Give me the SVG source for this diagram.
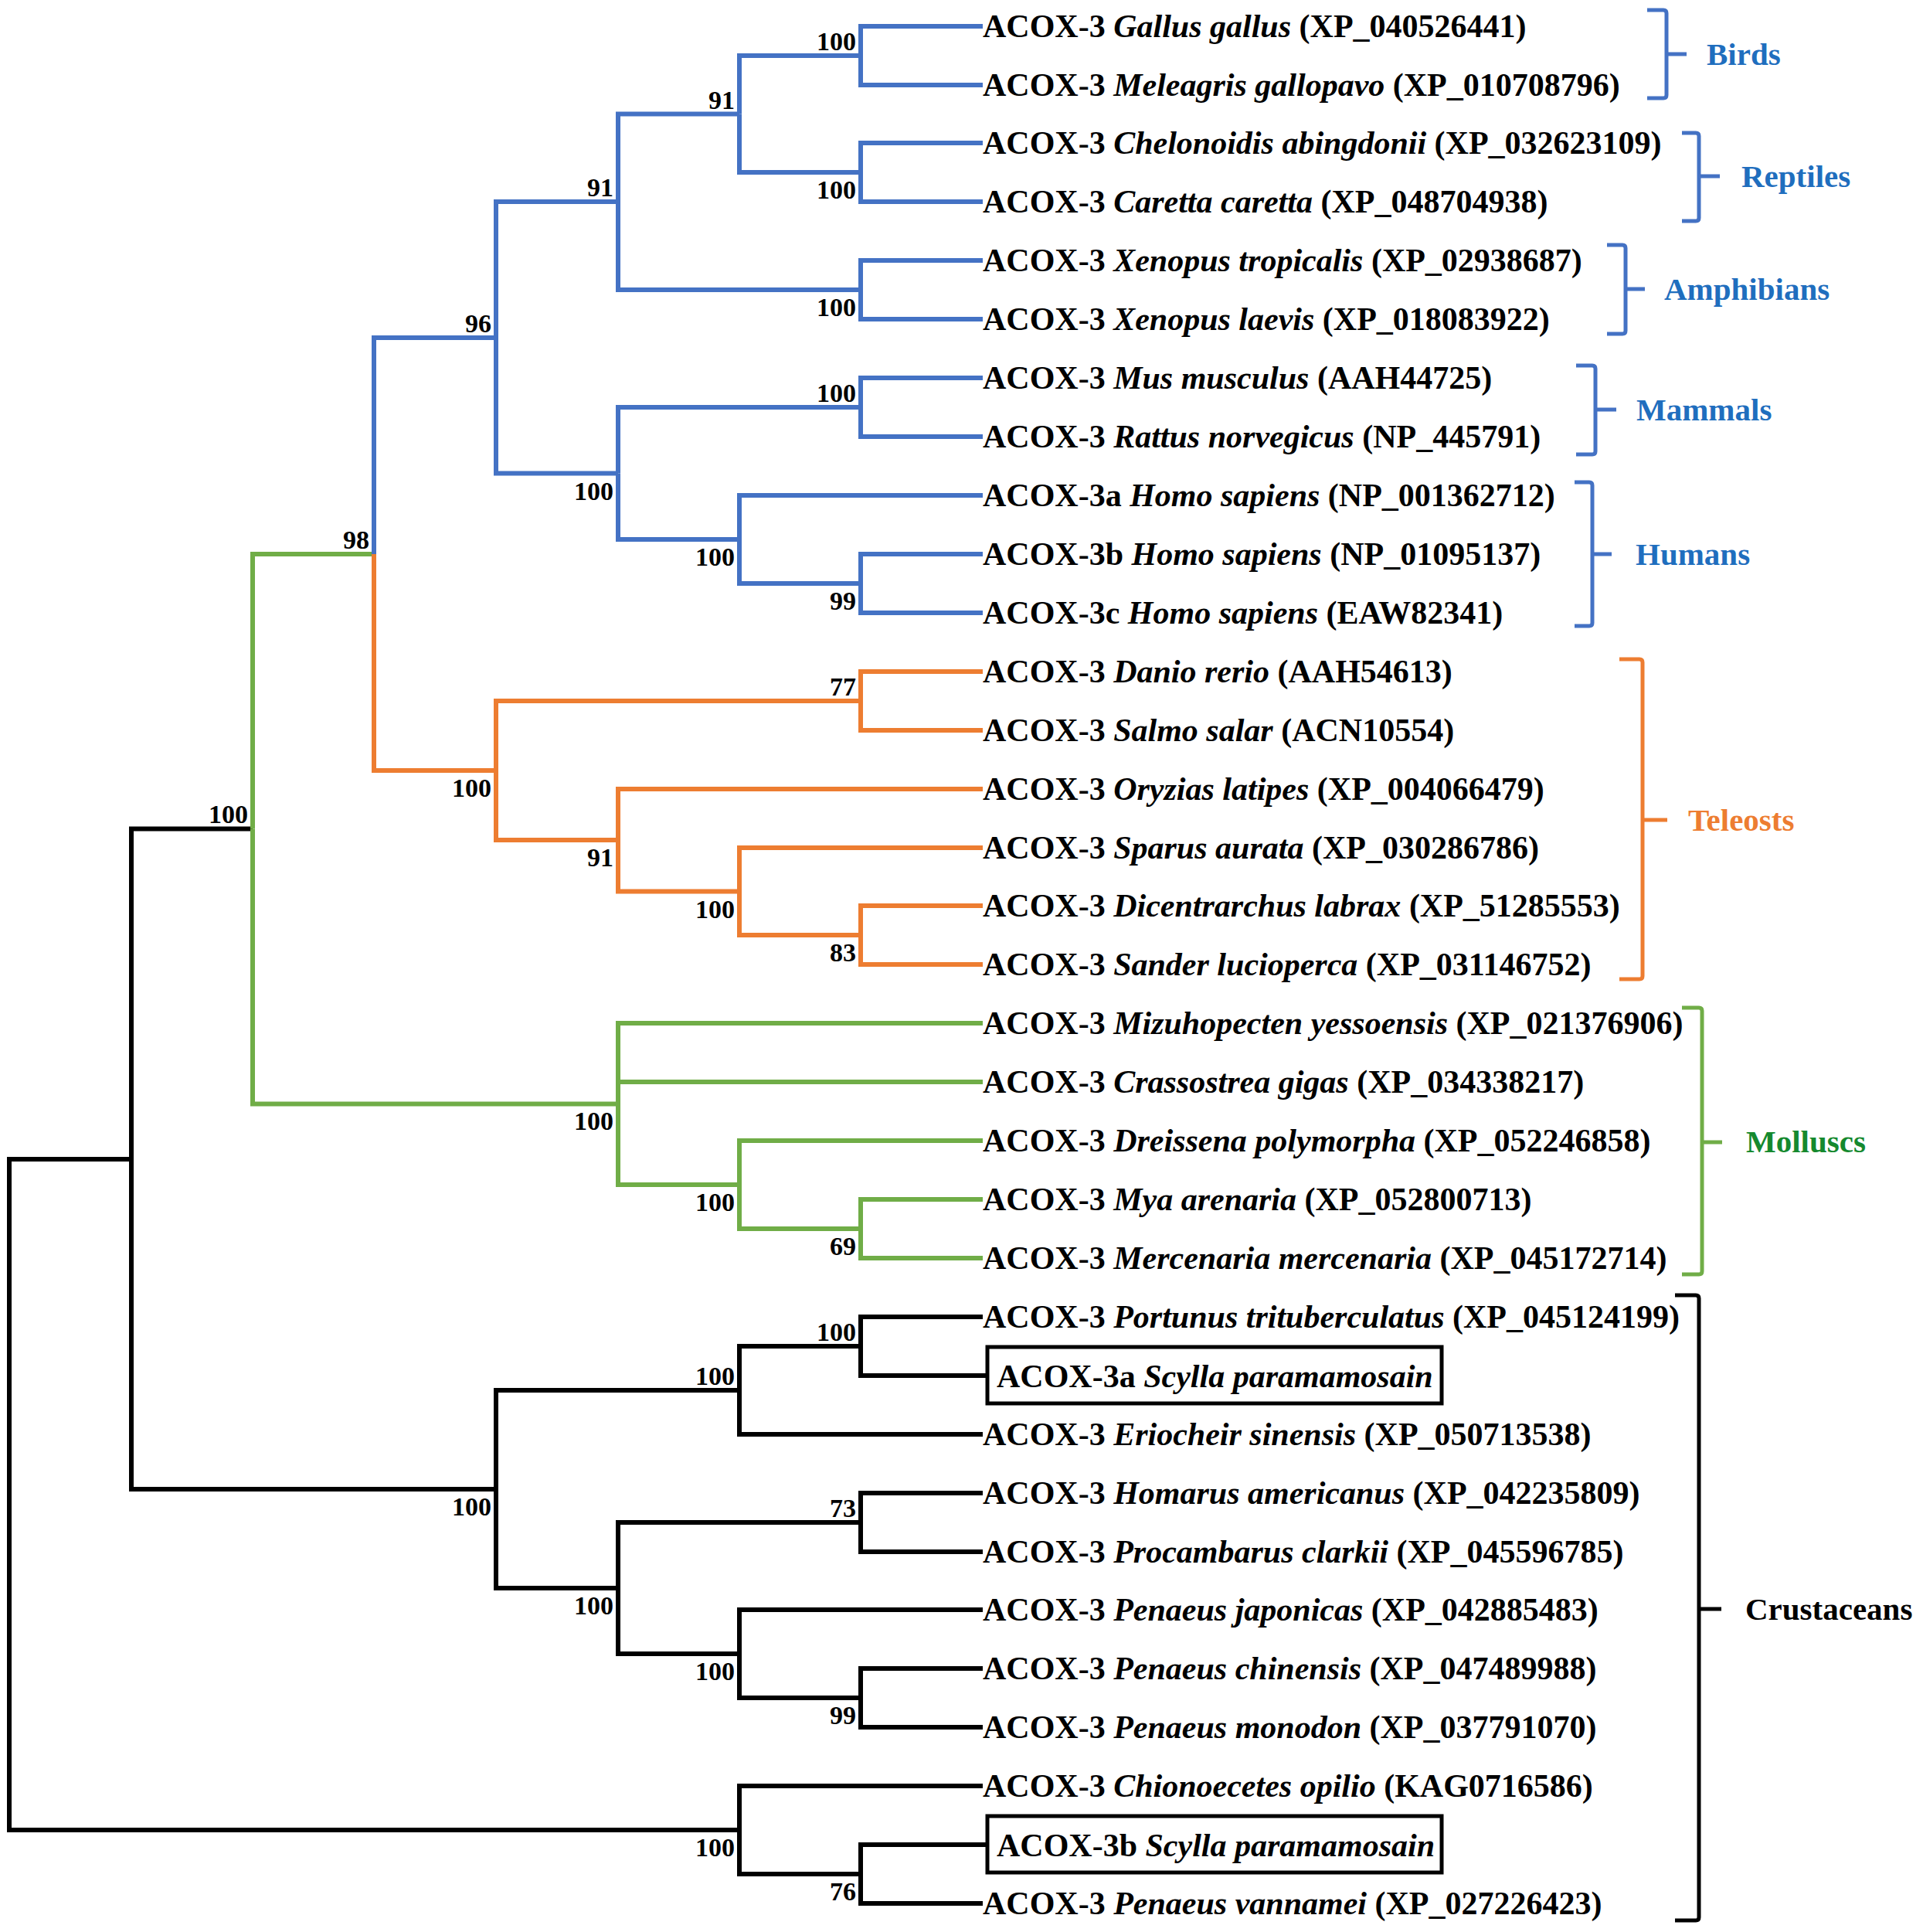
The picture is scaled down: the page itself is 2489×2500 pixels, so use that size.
<svg xmlns="http://www.w3.org/2000/svg" width="2489" height="2500" viewBox="0 0 2489 2500">
<style>
.b{fill:none;stroke-width:6;stroke-linejoin:miter;stroke-linecap:butt}
.k{stroke:#000}.bl{stroke:#4472C4}.or{stroke:#ED7D31}.gr{stroke:#70AD47}
.lf{font-family:"Liberation Serif","Times New Roman",serif;font-weight:bold;font-size:42px;fill:#000}
.i{font-style:italic}
.bs{font-family:"Liberation Serif","Times New Roman",serif;font-weight:bold;font-size:34px;fill:#000;text-anchor:end}
.br{fill:none;stroke-width:5;stroke-linejoin:round}
.cl{font-family:"Liberation Serif","Times New Roman",serif;font-weight:bold;font-size:41px}
.box{fill:none;stroke:#000;stroke-width:5}
</style>
<rect width="2489" height="2500" fill="#fff"/>
<g id="connectors">
<!-- root -->
<path class="b k" d="M12 1934V1500H170"/>
<path class="b k" d="M12 1934V2368H957"/>
<!-- n28 -->
<path class="b k" d="M170 1500V1072.5H327"/>
<path class="b k" d="M170 1500V1927H642"/>
<!-- n20 -->
<path class="b gr" d="M327 1072.5V717H484"/>
<path class="b gr" d="M327 1072.5V1428.5H800"/>
<!-- n16 -->
<path class="b bl" d="M484 717V437H642"/>
<path class="b or" d="M484 717V997H642"/>
<!-- n10 -->
<path class="b bl" d="M642 437V261H800"/>
<path class="b bl" d="M642 437V612.5H800"/>
<!-- n5 -->
<path class="b bl" d="M800 261V147.5H957"/>
<path class="b bl" d="M800 261V375H1114"/>
<!-- n3 -->
<path class="b bl" d="M957 147.5V72H1114"/>
<path class="b bl" d="M957 147.5V223H1114"/>
<!-- n1, n2, n4 -->
<path class="b bl" d="M1114 72V34H1272M1114 72V110H1272"/>
<path class="b bl" d="M1114 223V185H1272M1114 223V261H1272"/>
<path class="b bl" d="M1114 375V337H1272M1114 375V413H1272"/>
<!-- n9 -->
<path class="b bl" d="M800 612.5V527H1114"/>
<path class="b bl" d="M800 612.5V698H957"/>
<path class="b bl" d="M1114 527V489H1272M1114 527V565H1272"/>
<path class="b bl" d="M957 698V641H1272M957 698V755H1114"/>
<path class="b bl" d="M1114 755V717H1272M1114 755V793H1272"/>
<!-- teleosts -->
<path class="b or" d="M642 997V907H1114"/>
<path class="b or" d="M642 997V1087H800"/>
<path class="b or" d="M1114 907V869H1272M1114 907V945H1272"/>
<path class="b or" d="M800 1087V1021H1272M800 1087V1153.5H957"/>
<path class="b or" d="M957 1153.5V1097H1272M957 1153.5V1210H1114"/>
<path class="b or" d="M1114 1210V1172H1272M1114 1210V1248H1272"/>
<!-- molluscs -->
<path class="b gr" d="M800 1428.5V1324H1272M800 1400H1272M800 1428.5V1533H957"/>
<path class="b gr" d="M957 1533V1476H1272M957 1533V1590H1114"/>
<path class="b gr" d="M1114 1590V1552H1272M1114 1590V1628H1272"/>
<!-- crustaceans a -->
<path class="b k" d="M642 1927V1799H957"/>
<path class="b k" d="M642 1927V2055H800"/>
<path class="b k" d="M957 1799V1742H1114M957 1799V1856H1272"/>
<path class="b k" d="M1114 1742V1704H1272M1114 1742V1780H1276"/>
<path class="b k" d="M800 2055V1970H1114M800 2055V2140H957"/>
<path class="b k" d="M1114 1970V1932H1272M1114 1970V2008H1272"/>
<path class="b k" d="M957 2140V2083H1272M957 2140V2197H1114"/>
<path class="b k" d="M1114 2197V2159H1272M1114 2197V2235H1272"/>
<!-- crustaceans b -->
<path class="b k" d="M957 2368V2311H1272M957 2368V2425H1114"/>
<path class="b k" d="M1114 2425V2387H1276M1114 2425V2463H1272"/>
</g>
<g id="bootstrap">
<text class="bs" x="1108" y="65">100</text>
<text class="bs" x="951" y="141">91</text>
<text class="bs" x="1108" y="257">100</text>
<text class="bs" x="794" y="254">91</text>
<text class="bs" x="1108" y="409">100</text>
<text class="bs" x="636" y="430">96</text>
<text class="bs" x="1108" y="520">100</text>
<text class="bs" x="794" y="647">100</text>
<text class="bs" x="951" y="732">100</text>
<text class="bs" x="1108" y="789">99</text>
<text class="bs" x="478" y="710">98</text>
<text class="bs" x="1108" y="900">77</text>
<text class="bs" x="636" y="1031">100</text>
<text class="bs" x="321" y="1065">100</text>
<text class="bs" x="794" y="1121">91</text>
<text class="bs" x="951" y="1188">100</text>
<text class="bs" x="1108" y="1244">83</text>
<text class="bs" x="794" y="1462">100</text>
<text class="bs" x="951" y="1567">100</text>
<text class="bs" x="1108" y="1624">69</text>
<text class="bs" x="1108" y="1735">100</text>
<text class="bs" x="951" y="1792">100</text>
<text class="bs" x="636" y="1961">100</text>
<text class="bs" x="1108" y="1963">73</text>
<text class="bs" x="794" y="2089">100</text>
<text class="bs" x="951" y="2174">100</text>
<text class="bs" x="1108" y="2231">99</text>
<text class="bs" x="951" y="2402">100</text>
<text class="bs" x="1108" y="2459">76</text>
</g>
<g id="leaves">
<text class="lf" x="1272" y="48">ACOX-3 <tspan class="i">Gallus gallus</tspan> (XP_040526441)</text>
<text class="lf" x="1272" y="124">ACOX-3 <tspan class="i">Meleagris gallopavo</tspan> (XP_010708796)</text>
<text class="lf" x="1272" y="199">ACOX-3 <tspan class="i">Chelonoidis abingdonii</tspan> (XP_032623109)</text>
<text class="lf" x="1272" y="275">ACOX-3 <tspan class="i">Caretta caretta</tspan> (XP_048704938)</text>
<text class="lf" x="1272" y="351">ACOX-3 <tspan class="i">Xenopus tropicalis</tspan> (XP_02938687)</text>
<text class="lf" x="1272" y="427">ACOX-3 <tspan class="i">Xenopus laevis</tspan> (XP_018083922)</text>
<text class="lf" x="1272" y="503">ACOX-3 <tspan class="i">Mus musculus</tspan> (AAH44725)</text>
<text class="lf" x="1272" y="579">ACOX-3 <tspan class="i">Rattus norvegicus</tspan> (NP_445791)</text>
<text class="lf" x="1272" y="655">ACOX-3a <tspan class="i">Homo sapiens</tspan> (NP_001362712)</text>
<text class="lf" x="1272" y="731">ACOX-3b <tspan class="i">Homo sapiens</tspan> (NP_01095137)</text>
<text class="lf" x="1272" y="807">ACOX-3c <tspan class="i">Homo sapiens</tspan> (EAW82341)</text>
<text class="lf" x="1272" y="883">ACOX-3 <tspan class="i">Danio rerio</tspan> (AAH54613)</text>
<text class="lf" x="1272" y="959">ACOX-3 <tspan class="i">Salmo salar</tspan> (ACN10554)</text>
<text class="lf" x="1272" y="1035">ACOX-3 <tspan class="i">Oryzias latipes</tspan> (XP_004066479)</text>
<text class="lf" x="1272" y="1111">ACOX-3 <tspan class="i">Sparus aurata</tspan> (XP_030286786)</text>
<text class="lf" x="1272" y="1186">ACOX-3 <tspan class="i">Dicentrarchus labrax</tspan> (XP_51285553)</text>
<text class="lf" x="1272" y="1262">ACOX-3 <tspan class="i">Sander lucioperca</tspan> (XP_031146752)</text>
<text class="lf" x="1272" y="1338">ACOX-3 <tspan class="i">Mizuhopecten yessoensis</tspan> (XP_021376906)</text>
<text class="lf" x="1272" y="1414">ACOX-3 <tspan class="i">Crassostrea gigas</tspan> (XP_034338217)</text>
<text class="lf" x="1272" y="1490">ACOX-3 <tspan class="i">Dreissena polymorpha</tspan> (XP_052246858)</text>
<text class="lf" x="1272" y="1566">ACOX-3 <tspan class="i">Mya arenaria</tspan> (XP_052800713)</text>
<text class="lf" x="1272" y="1642">ACOX-3 <tspan class="i">Mercenaria mercenaria</tspan> (XP_045172714)</text>
<text class="lf" x="1272" y="1718">ACOX-3 <tspan class="i">Portunus trituberculatus</tspan> (XP_045124199)</text>
<g id="scylla-a">
<rect class="box" x="1278" y="1743" width="588" height="73"/>
<text class="lf" x="1290" y="1795">ACOX-3a <tspan class="i">Scylla paramamosain</tspan></text>
</g>
<text class="lf" x="1272" y="1870">ACOX-3 <tspan class="i">Eriocheir sinensis</tspan> (XP_050713538)</text>
<text class="lf" x="1272" y="1946">ACOX-3 <tspan class="i">Homarus americanus</tspan> (XP_042235809)</text>
<text class="lf" x="1272" y="2022">ACOX-3 <tspan class="i">Procambarus clarkii</tspan> (XP_045596785)</text>
<text class="lf" x="1272" y="2097">ACOX-3 <tspan class="i">Penaeus japonicas</tspan> (XP_042885483)</text>
<text class="lf" x="1272" y="2173">ACOX-3 <tspan class="i">Penaeus chinensis</tspan> (XP_047489988)</text>
<text class="lf" x="1272" y="2249">ACOX-3 <tspan class="i">Penaeus monodon</tspan> (XP_037791070)</text>
<text class="lf" x="1272" y="2325">ACOX-3 <tspan class="i">Chionoecetes opilio</tspan> (KAG0716586)</text>
<g id="scylla-b">
<rect class="box" x="1278" y="2350" width="588" height="73"/>
<text class="lf" x="1290" y="2402">ACOX-3b <tspan class="i">Scylla paramamosain</tspan></text>
</g>
<text class="lf" x="1272" y="2477">ACOX-3 <tspan class="i">Penaeus vannamei</tspan> (XP_027226423)</text>
</g>
<g id="clades">
<g id="birds"><path class="br" stroke="#4472C4" d="M2132 13H2153Q2157 13 2157 17V123Q2157 127 2153 127H2132M2157 70H2183"/><text class="cl" fill="#1F6EBE" x="2209" y="84">Birds</text></g>
<g id="reptiles"><path class="br" stroke="#4472C4" d="M2177 172H2195Q2199 172 2199 176V282Q2199 286 2195 286H2177M2199 228H2226"/><text class="cl" fill="#1F6EBE" x="2254" y="242">Reptiles</text></g>
<g id="amphibians"><path class="br" stroke="#4472C4" d="M2080 317H2100Q2104 317 2104 321V428Q2104 432 2100 432H2080M2104 374H2129"/><text class="cl" fill="#1F6EBE" x="2154" y="388">Amphibians</text></g>
<g id="mammals"><path class="br" stroke="#4472C4" d="M2040 473H2061Q2065 473 2065 477V584Q2065 588 2061 588H2040M2065 530H2092"/><text class="cl" fill="#1F6EBE" x="2118" y="544">Mammals</text></g>
<g id="humans"><path class="br" stroke="#4472C4" d="M2038 624H2057Q2061 624 2061 628V806Q2061 810 2057 810H2038M2061 717H2086"/><text class="cl" fill="#1F6EBE" x="2117" y="731">Humans</text></g>
<g id="teleosts"><path class="br" stroke="#ED7D31" d="M2096 853H2122Q2126 853 2126 857V1263Q2126 1267 2122 1267H2096M2126 1061H2158"/><text class="cl" fill="#ED7D31" x="2185" y="1075">Teleosts</text></g>
<g id="molluscs"><path class="br" stroke="#70AD47" d="M2177 1304H2199Q2203 1304 2203 1308V1645Q2203 1649 2199 1649H2177M2203 1478H2229"/><text class="cl" fill="#15892E" x="2260" y="1491">Molluscs</text></g>
<g id="crustaceans"><path class="br" stroke="#000" d="M2168 1676H2195Q2199 1676 2199 1680V2481Q2199 2485 2195 2485H2168M2199 2082H2228"/><text class="cl" fill="#000" x="2259" y="2096">Crustaceans</text></g>
</g>
</svg>
